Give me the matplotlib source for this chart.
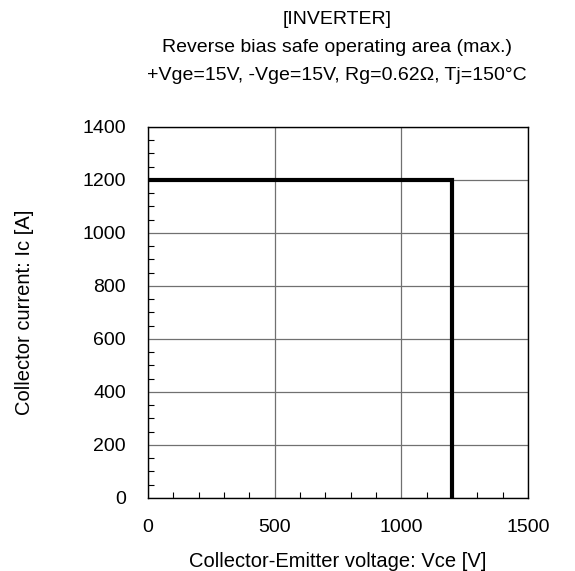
import matplotlib
matplotlib.use("Agg")
import matplotlib.pyplot as plt
from matplotlib.ticker import MultipleLocator

# RBSOA boundary (max.)
vce = [0, 1200, 1200]
ic = [1200, 1200, 0]

x_ticks = [0, 500, 1000, 1500]
y_ticks = [0, 200, 400, 600, 800, 1000, 1200, 1400]

plt.rcParams['font.family'] = ['Liberation Sans', 'DejaVu Sans']

fig = plt.figure(figsize=(5.75, 5.71), dpi=100)
ax = fig.add_axes([0.2574, 0.1279, 0.6609, 0.6497])

ax.plot(vce, ic, color='black', linewidth=3.0, solid_joinstyle='miter', zorder=3)

ax.set_xlim(0, 1500)
ax.set_ylim(0, 1400)
ax.set_xticks(x_ticks)
ax.set_yticks(y_ticks)
ax.xaxis.set_minor_locator(MultipleLocator(100))
ax.yaxis.set_minor_locator(MultipleLocator(50))
ax.tick_params(which='both', direction='in', top=False, right=False)
ax.tick_params(which='major', length=0, labelsize=14)
ax.tick_params(axis='x', which='major', pad=15)
ax.tick_params(axis='y', which='major', pad=16)
ax.tick_params(which='minor', length=4, width=0.8)
ax.grid(True, which='major', color='#707070', linewidth=0.9)
for s in ax.spines.values():
    s.set_linewidth(1.0)

ax.set_xlabel('Collector-Emitter voltage: Vce [V]', fontsize=14.5)
ax.xaxis.label.set_va('center')
ax.xaxis.set_label_coords(0.5, -0.170)
ax.set_ylabel('Collector current: Ic [A]', fontsize=14.5)
ax.yaxis.label.set_va('center')
ax.yaxis.set_label_coords(-0.325, 0.5)

fig.text(0.586, 1 - 20 / 571, '[INVERTER]', ha='center', va='center', fontsize=14)
fig.text(0.586, 1 - 47 / 571, 'Reverse bias safe operating area (max.)', ha='center', va='center', fontsize=14)
fig.text(0.586, 1 - 75 / 571, '+Vge=15V, -Vge=15V, Rg=0.62\u03a9, Tj=150\u00b0C', ha='center', va='center', fontsize=14)

fig.savefig('out.png', dpi=100)
